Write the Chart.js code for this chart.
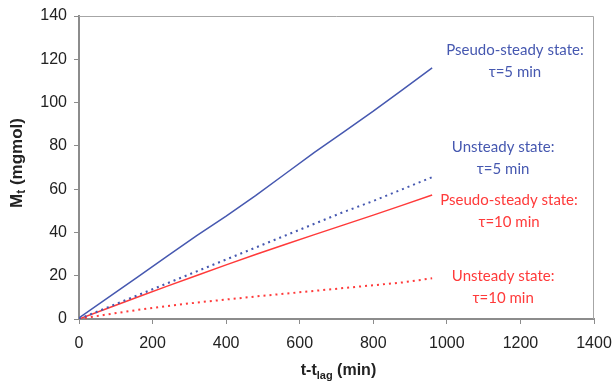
<!DOCTYPE html>
<html>
<head>
<meta charset="utf-8">
<script src="https://cdn.jsdelivr.net/npm/chart.js@4.4.1/dist/chart.umd.min.js"></script>
<style>
  html, body { margin: 0; padding: 0; background: #fff; }
  #wrap { width: 614px; height: 381px; }
</style>
</head>
<body>
<div id="wrap"><canvas id="mainChart" width="614" height="381"></canvas></div>
<script>
// time points (min)
const tPoints = [0, 80, 160, 240, 320, 400, 480, 560, 640, 720, 800, 880, 960];
// M_t (mgmol) for each curve
const pseudo5 = [0.5, 10, 19.5, 29, 38.5, 47.5, 57, 67, 77, 86.5, 96, 106, 116];
const unsteady5 = [0, 5.5, 11, 16.5, 22, 27.5, 33, 38.5, 44, 49.5, 54.5, 60, 65.5];
const pseudo10 = [0, 5.1, 10.2, 15.2, 20.1, 25, 29.8, 34.4, 39, 43.5, 48, 52.6, 57.3];
const unsteady10 = [0, 2.2, 4.2, 6, 7.6, 9, 10.4, 11.7, 13, 14.3, 15.6, 16.9, 18.8];
const xTicks = [0, 200, 400, 600, 800, 1000, 1200, 1400];
const yTicks = [0, 20, 40, 60, 80, 100, 120, 140];

const BLUE = '#4658b0';
const RED = '#ff3a3a';

// text notes next to the curves, anchored in data units
const notes = [
  { lines: ['Pseudo-steady state:', 'τ=5 min'], color: BLUE, x: 1185, y: 124.3 },
  { lines: ['Unsteady state:', 'τ=5 min'], color: BLUE, x: 1153, y: 79.5 },
  { lines: ['Pseudo-steady state:', 'τ=10 min'], color: RED, x: 1169, y: 55 },
  { lines: ['Unsteady state:', 'τ=10 min'], color: RED, x: 1153, y: 19.9 }
];

const pts = (ys) => tPoints.map((t, i) => ({ x: t, y: ys[i] }));

function drawRich(ctx, parts, cx, cy, size) {
  const subSize = Math.round(size * 0.68);
  let w = 0;
  parts.forEach(p => {
    ctx.font = 'bold ' + (p.sub ? subSize : size) + 'px "Liberation Sans", Arial, sans-serif';
    p.w = ctx.measureText(p.t).width;
    w += p.w;
  });
  let x = cx - w / 2;
  ctx.textAlign = 'left';
  ctx.textBaseline = 'middle';
  parts.forEach(p => {
    ctx.font = 'bold ' + (p.sub ? subSize : size) + 'px "Liberation Sans", Arial, sans-serif';
    ctx.fillText(p.t, x, cy + (p.sub ? size * 0.3 : 0));
    x += p.w;
  });
}

const framePlugin = {
  id: 'frame',
  beforeDatasetsDraw(chart) {
    const a = chart.chartArea, ctx = chart.ctx;
    ctx.save();
    ctx.strokeStyle = '#a6a6a6';
    ctx.lineWidth = 1;
    ctx.beginPath();
    ctx.moveTo(a.left, a.top + 0.5);
    ctx.lineTo(a.right - 0.5, a.top + 0.5);
    ctx.lineTo(a.right - 0.5, a.bottom);
    ctx.stroke();
    ctx.restore();
  },
  afterDraw(chart) {
    const ctx = chart.ctx, a = chart.chartArea;
    const xs = chart.scales.x, ys = chart.scales.y;
    ctx.save();
    ctx.fillStyle = '#222';
    // x title
    drawRich(ctx, [{ t: 't-t' }, { t: 'lag', sub: true }, { t: ' (min)' }], (a.left + a.right) / 2 + 2, 371, 16);
    // y title
    ctx.translate(17, 163);
    ctx.rotate(-Math.PI / 2);
    drawRich(ctx, [{ t: 'M' }, { t: 't', sub: true }, { t: ' (mgmol)' }], 0, 0, 17);
    ctx.restore();

    ctx.save();
    ctx.font = '15px Lato, "Open Sans", sans-serif';
    ctx.textAlign = 'center';
    ctx.textBaseline = 'middle';
    notes.forEach(n => {
      const px = xs.getPixelForValue(n.x), py = ys.getPixelForValue(n.y);
      ctx.fillStyle = n.color;
      n.lines.forEach((s, i) => ctx.fillText(s, px, py + i * 22));
    });
    ctx.restore();
  }
};

const tickFont = { family: '"Liberation Sans", Arial, sans-serif', size: 16 };

new Chart(document.getElementById('mainChart'), {
  type: 'line',
  data: {
    datasets: [
      { data: pts(pseudo5), borderColor: BLUE, borderWidth: 1.5 },
      { data: pts(unsteady5), borderColor: BLUE, borderWidth: 2, borderDash: [2, 4] },
      { data: pts(pseudo10), borderColor: RED, borderWidth: 1.5 },
      { data: pts(unsteady10), borderColor: RED, borderWidth: 2, borderDash: [2, 4] }
    ]
  },
  options: {
    responsive: false,
    animation: false,
    layout: { padding: { top: 16, right: 20, left: 0, bottom: 0 } },
    elements: { point: { radius: 0 }, line: { tension: 0, fill: false } },
    plugins: { legend: { display: false }, tooltip: { enabled: false } },
    scales: {
      x: {
        type: 'linear', min: 0, max: 1400,
        afterBuildTicks: s => { s.ticks = xTicks.map(v => ({ value: v })); },
        afterFit: s => { s.height = 62; s.paddingLeft = 0; s.paddingRight = 0; },
        ticks: { font: tickFont, color: '#222', padding: 10, maxRotation: 0, callback: v => String(v) },
        grid: { display: true, drawOnChartArea: false, drawTicks: true, tickLength: 5, color: '#8c8c8c', lineWidth: 1 },
        border: { display: true, color: '#8c8c8c', width: 2 }
      },
      y: {
        type: 'linear', min: 0, max: 140,
        afterBuildTicks: s => { s.ticks = yTicks.map(v => ({ value: v })); },
        afterFit: s => { s.width = 79; s.paddingTop = 0; s.paddingBottom = 0; },
        ticks: { font: tickFont, color: '#222', padding: 7, callback: v => String(v) },
        grid: { display: true, drawOnChartArea: false, drawTicks: true, tickLength: 5, color: '#8c8c8c', lineWidth: 1 },
        border: { display: true, color: '#8c8c8c', width: 2 }
      }
    }
  },
  plugins: [framePlugin]
});
</script>
</body>
</html>
